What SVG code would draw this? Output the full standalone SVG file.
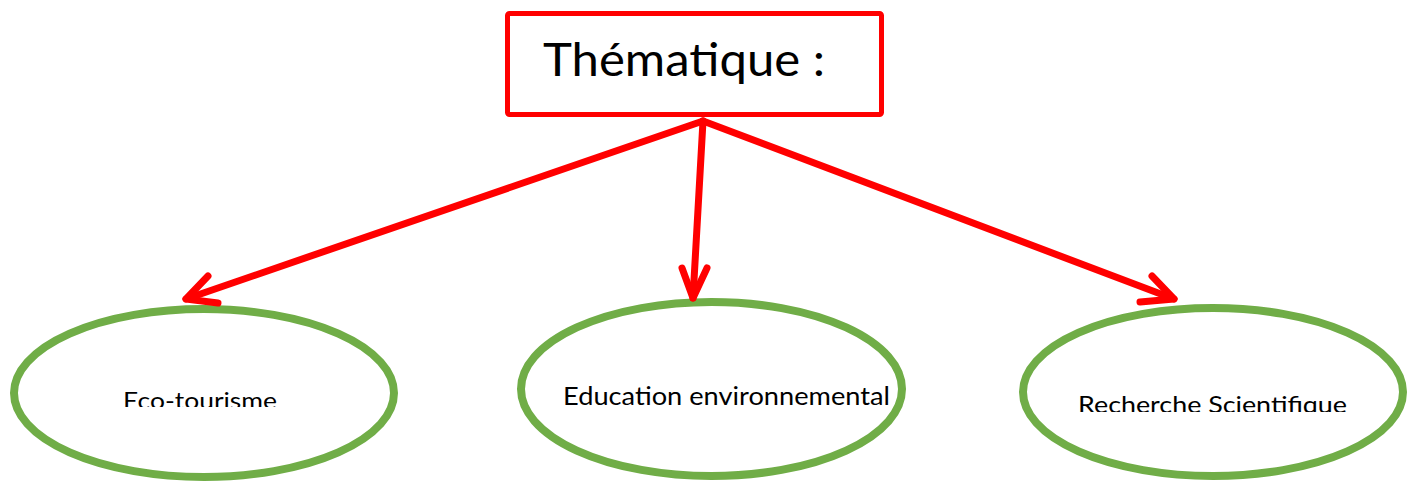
<svg xmlns="http://www.w3.org/2000/svg" width="1416" height="481" viewBox="0 0 1416 481">
<style>
.box{fill:#fff;stroke:#ff0000;stroke-width:5}
.ell{fill:#fff;stroke:#70ad47;stroke-width:8}
.conn{fill:none;stroke:#ff0000;stroke-width:7;stroke-linecap:round;stroke-linejoin:round}
.t{font-family:Lato,"Open Sans","Liberation Sans",sans-serif;fill:#000}
</style>
<defs>
<clipPath id="c1"><rect x="0" y="0" width="420" height="407"/></clipPath>
<clipPath id="c3"><rect x="1000" y="0" width="416" height="412"/></clipPath>
</defs>
<rect width="1416" height="481" fill="#fff"/>
<g id="node-thematique">
<rect class="box" x="507.5" y="13.5" width="374" height="101" rx="2"/>
<text class="t" x="543" y="76" font-size="46" textLength="282" lengthAdjust="spacingAndGlyphs">Thématique :</text>
</g>
<g id="node-eco">
<ellipse class="ell" cx="204" cy="393" rx="190" ry="84"/>
<text class="t" x="123" y="409" font-size="23" textLength="154" lengthAdjust="spacingAndGlyphs" clip-path="url(#c1)">Eco-tourisme</text>
</g>
<g id="node-education">
<ellipse class="ell" cx="711.5" cy="389" rx="190.5" ry="87"/>
<text class="t" x="563" y="405" font-size="25" textLength="327" lengthAdjust="spacingAndGlyphs">Education environnemental</text>
</g>
<g id="node-recherche">
<ellipse class="ell" cx="1213" cy="392" rx="190" ry="84"/>
<text class="t" x="1078" y="413" font-size="24" textLength="269" lengthAdjust="spacingAndGlyphs" clip-path="url(#c3)">Recherche Scientifique</text>
</g>
<g id="connectors">
<line class="conn" x1="703" y1="121" x2="186" y2="299"/>
<polyline class="conn" points="208,276 186,299 218,303"/>
<line class="conn" x1="703" y1="121" x2="693" y2="298"/>
<polyline class="conn" points="682,268 693,298 707,268"/>
<line class="conn" x1="703" y1="121" x2="1174" y2="299"/>
<polyline class="conn" points="1152,276 1174,299 1140,302"/>
</g>
</svg>
